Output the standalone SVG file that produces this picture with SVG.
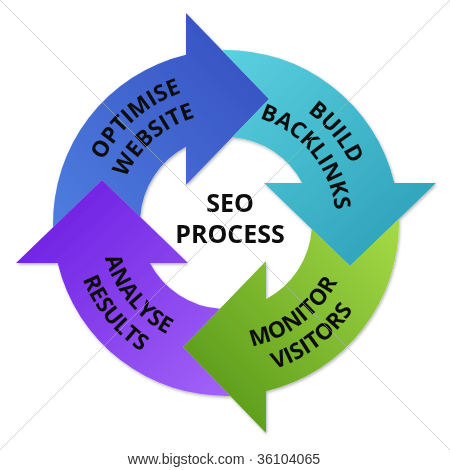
<svg xmlns="http://www.w3.org/2000/svg" width="450" height="470" viewBox="0 0 450 470">
<defs>
<style>
.lbl{font-family:"Open Sans","Liberation Sans",sans-serif;font-weight:700;font-size:22.5px;fill:#0d0d0d;text-anchor:middle;}
.ctr{font-family:"Open Sans","Liberation Sans",sans-serif;font-weight:700;font-size:25px;fill:#0d0d0d;text-anchor:middle;}
.wml{stroke:#b4b4b4;stroke-width:1;stroke-opacity:0.55;fill:none;}
</style>
<linearGradient id="gBlue" gradientUnits="userSpaceOnUse" x1="-160" y1="30" x2="40" y2="-160">
<stop offset="0" stop-color="#4f7fe0"/><stop offset="1" stop-color="#3752c2"/>
</linearGradient>
<linearGradient id="gCyan" gradientUnits="userSpaceOnUse" x1="-160" y1="30" x2="40" y2="-160">
<stop offset="0" stop-color="#5cd2e1"/><stop offset="1" stop-color="#2ea2ba"/>
</linearGradient>
<linearGradient id="gGreen" gradientUnits="userSpaceOnUse" x1="-160" y1="30" x2="40" y2="-160">
<stop offset="0" stop-color="#a8dd48"/><stop offset="1" stop-color="#5a9a1a"/>
</linearGradient>
<linearGradient id="gPurple" gradientUnits="userSpaceOnUse" x1="-160" y1="30" x2="40" y2="-160">
<stop offset="0" stop-color="#a466f8"/><stop offset="1" stop-color="#6e20e2"/>
</linearGradient>
<filter id="sh" x="-10%" y="-10%" width="120%" height="120%">
<feDropShadow dx="1" dy="1.5" stdDeviation="1.5" flood-color="#000" flood-opacity="0.3"/>
</filter>
<path id="arrow" d="M -172.9 4.24 A 173 173 0 0 1 -40 -168.31 L -40 -210 L 43 -124 L -40 -38 L -40 -76.13 A 86 86 0 0 0 -85.78 -6.11 L -124 -43 Z"/>
<path id="tp-optimise" d="M 107.97 293.92 A 137.7 137.7 0 0 1 312.66 115.99"/>
<path id="tp-website" d="M 131.71 279.65 A 110 110 0 0 1 295.23 137.51"/>
<path id="tp-build" d="M 158.19 103.15 A 137.7 137.7 0 0 1 330.71 312.43"/>
<path id="tp-backlinks" d="M 171.83 127.26 A 110 110 0 0 1 309.65 294.44"/>
<path id="tp-monitor" d="M 140.07 315.15 A 126 126 0 0 0 338.27 165.8"/>
<path id="tp-visitors" d="M 120.97 335.63 A 154 154 0 0 0 363.22 153.09"/>
<path id="tp-analyse" d="M 130.91 140.34 A 126 126 0 0 0 287.09 333.2"/>
<path id="tp-results" d="M 109.77 121.97 A 154 154 0 0 0 300.66 357.69"/>
</defs>
<rect x="0" y="0" width="450" height="470" fill="#ffffff"/>
<g id="cycle" filter="url(#sh)">
<g id="node-optimise-website">
<use href="#arrow" transform="translate(226 223)" fill="url(#gBlue)"/>
</g>
<g id="node-build-backlinks">
<use href="#arrow" transform="translate(226 223) rotate(90)" fill="url(#gCyan)"/>
</g>
<g id="node-monitor-visitors">
<use href="#arrow" transform="translate(226 223) rotate(180)" fill="url(#gGreen)"/>
</g>
<g id="node-analyse-results">
<use href="#arrow" transform="translate(226 223) rotate(270)" fill="url(#gPurple)"/>
</g>
</g>
<g id="labels">
<text class="lbl"><textPath href="#tp-optimise" startOffset="50%">OPTIMISE</textPath></text>
<text class="lbl"><textPath href="#tp-website" startOffset="50%">WEBSITE</textPath></text>
<text class="lbl"><textPath href="#tp-build" startOffset="50%">BUILD</textPath></text>
<text class="lbl"><textPath href="#tp-backlinks" startOffset="50%">BACKLINKS</textPath></text>
<text class="lbl"><textPath href="#tp-monitor" startOffset="50%">MONITOR</textPath></text>
<text class="lbl"><textPath href="#tp-visitors" startOffset="50%">VISITORS</textPath></text>
<text class="lbl"><textPath href="#tp-analyse" startOffset="50%">ANALYSE</textPath></text>
<text class="lbl"><textPath href="#tp-results" startOffset="50%">RESULTS</textPath></text>
</g>
<g id="node-center">
<text class="ctr" x="230" y="212">SEO</text>
<text class="ctr" x="230" y="243">PROCESS</text>
</g>
<line class="wml" x1="0" y1="0" x2="450" y2="450"/>
<line class="wml" x1="450" y1="0" x2="0" y2="450"/>
<text x="224" y="464" font-family="Liberation Sans, Arial, sans-serif" font-size="14.2" fill="#333333" text-anchor="middle">www.bigstock.com · 36104065</text>
</svg>
